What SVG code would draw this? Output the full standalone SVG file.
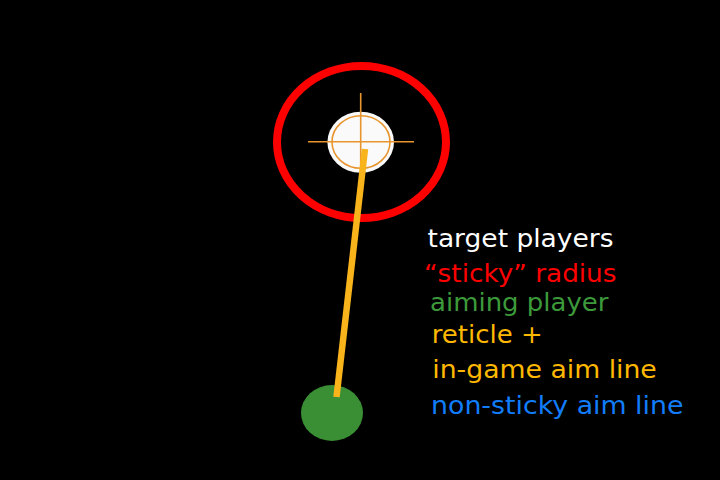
<svg xmlns="http://www.w3.org/2000/svg" width="720" height="480" viewBox="0 0 720 480">
<style>
text{font-family:"DejaVu Sans","Verdana",sans-serif;font-size:25px}
.cross{stroke:#e8952f;stroke-width:1.6;fill:none}
</style>
<rect width="720" height="480" fill="#000"/>
<g id="sticky-radius">
<ellipse cx="361.5" cy="142" rx="84.5" ry="76" fill="none" stroke="#ff0000" stroke-width="8"/>
</g>
<g id="target-player">
<ellipse cx="360.7" cy="142.2" rx="33.3" ry="30.5" fill="#fafafa"/>
<ellipse cx="361" cy="142" rx="29" ry="26.3" class="cross"/>
<line x1="308" y1="141.7" x2="414" y2="141.7" class="cross"/>
<line x1="360.7" y1="93" x2="360.7" y2="190" class="cross"/>
</g>
<g id="aiming-player">
<ellipse cx="332" cy="413" rx="31" ry="28" fill="#3a8f35"/>
</g>
<g id="connectors">
<line x1="365" y1="149" x2="336.5" y2="397" stroke="#f9b31b" stroke-width="6.5"/>
</g>
<g id="legend">
<text x="427.5" y="246.7" fill="#ffffff" textLength="186" lengthAdjust="spacingAndGlyphs">target players</text>
<text x="424" y="281.7" fill="#ff0000" textLength="192.5" lengthAdjust="spacingAndGlyphs">“sticky” radius</text>
<text x="430" y="310.7" fill="#3c9a3a" textLength="178.5" lengthAdjust="spacingAndGlyphs">aiming player</text>
<text x="431.7" y="343.3" fill="#ffb800" textLength="111" lengthAdjust="spacingAndGlyphs">reticle +</text>
<text x="432.3" y="378.3" fill="#ffb800" textLength="224.5" lengthAdjust="spacingAndGlyphs">in-game aim line</text>
<text x="431" y="414.3" fill="#127dfa" textLength="252.5" lengthAdjust="spacingAndGlyphs">non-sticky aim line</text>
</g>
</svg>
